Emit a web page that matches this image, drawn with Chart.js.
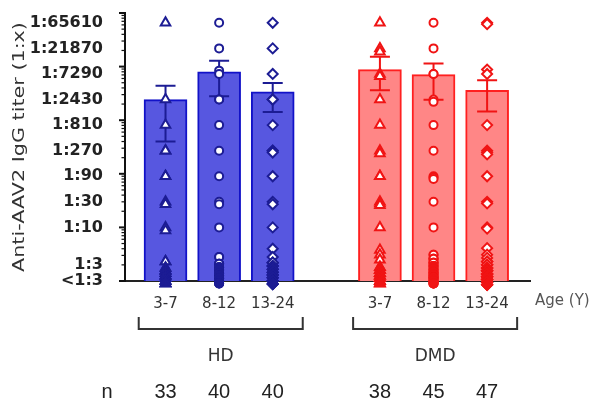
<!DOCTYPE html>
<html>
<head>
<meta charset="utf-8">
<script src="https://cdn.jsdelivr.net/npm/chart.js@4.4.1/dist/chart.umd.min.js"></script>
<style>
  body { margin: 0; background: #fff; }
</style>
</head>
<body>
<canvas id="chart" width="602" height="401"></canvas>
<script>
// x slots: three age groups per cohort, one empty slot between cohorts
const ageSlots = ["3-7", "8-12", "13-24", "", "3-7", "8-12", "13-24"];
const cohorts = ["HD", "DMD"];
const nCounts = [33, 40, 40, 38, 45, 47];

// y axis labels (3-fold dilution series)
const yTickValues = [1, 2, 10, 30, 90, 270, 810, 2430, 7290, 21870, 65610];
const yTickLabels = ["<1:3", "1:3", "1:10", "1:30", "1:90", "1:270", "1:810",
                     "1:2430", "1:7290", "1:21870", "1:65610"];

// bar heights and error bar ends per age group
const hdMean = [2420, 7960, 3370];
const hdErrLow = [402, 2790, 1423];
const hdErrHigh = [4410, 12900, 4960];
const dmdMean = [8790, 7080, 3610];
const dmdErrLow = [3610, 2420, 1460];
const dmdErrHigh = [15200, 11380, 5550];

// individual titers: level and number of subjects on that level
const hd37Levels = [65610, 2430, 810, 270, 90, 30, 27, 10, 8.8, 2.3, 1.75, 1.55, 1.4, 1.25, 1.12, 1, 0.9];
const hd37Counts = [1, 1, 1, 2, 2, 1, 1, 1, 1, 2, 2, 3, 3, 3, 3, 3, 3];
const hd812Levels = [65610, 21870, 8400, 7290, 2430, 810, 270, 90, 30, 27, 10, 2.8, 2.1, 1.8, 1.6, 1.4, 1.25, 1.12, 1, 0.9];
const hd812Counts = [1, 1, 1, 1, 2, 1, 1, 1, 1, 1, 1, 2, 3, 3, 3, 3, 3, 4, 4, 3];
const hd1324Levels = [65610, 21870, 7290, 2430, 810, 270, 250, 90, 30, 27, 10, 4, 2.8, 2.2, 1.9, 1.65, 1.45, 1.3, 1.15, 1, 0.88];
const hd1324Counts = [1, 1, 1, 2, 1, 2, 1, 1, 1, 1, 1, 1, 1, 3, 3, 3, 3, 3, 3, 4, 3];
const dmd37Levels = [65610, 21870, 19000, 7290, 6600, 2430, 810, 270, 240, 90, 30, 28, 26, 10, 3.8, 3.1, 2.5, 1.8, 1.6, 1.4, 1.25, 1.12, 1, 0.9];
const dmd37Counts = [1, 1, 1, 1, 1, 1, 1, 1, 1, 2, 1, 1, 1, 1, 1, 1, 1, 2, 3, 3, 3, 3, 3, 3];
const dmd812Levels = [65610, 21870, 7290, 2430, 2200, 810, 270, 90, 85, 80, 30, 10, 3.1, 2.6, 2.2, 1.9, 1.65, 1.45, 1.3, 1.15, 1, 0.9];
const dmd812Counts = [1, 1, 2, 1, 1, 1, 1, 1, 1, 1, 1, 1, 2, 3, 3, 3, 3, 3, 3, 4, 4, 4];
const dmd1324Levels = [65610, 62000, 8800, 7290, 810, 270, 250, 230, 90, 30, 28, 10, 9.5, 4.1, 3.1, 2.7, 2.3, 2, 1.75, 1.55, 1.35, 1.2, 1.07, 0.95, 0.85];
const dmd1324Counts = [1, 1, 1, 1, 1, 1, 1, 1, 1, 1, 1, 1, 1, 1, 1, 1, 3, 3, 3, 4, 4, 4, 4, 3, 3];

const HD_FILL = "#5757e0", HD_EDGE = "#1212c8", HD_DOT = "#1c1c94";
const DMD_FILL = "#ff8686", DMD_EDGE = "#ff2020", DMD_DOT = "#f01414";

// slot index -> x value on the linear axis
const hdSlots = [0, 1, 2];
const dmdSlots = [4, 5, 6];
const slotX = i => i + 1;

function expand(levels, counts, slot) {
    const pts = [];
    levels.forEach((v, i) => {
        for (let k = 0; k < counts[i]; k++) pts.push({ x: slotX(slot), y: v });
    });
    return pts;
}

function dots(levels, counts, slot, style, color, radius) {
    return {
        type: "scatter",
        data: expand(levels, counts, slot),
        pointStyle: style,
        pointRadius: radius,
        pointHoverRadius: radius,
        // subjects below 1:3 pile up at the bottom, drawn solid
        pointBackgroundColor: c => (c.raw && c.raw.y < yTickValues[1] ? color : "#ffffff"),
        pointBorderColor: color,
        pointBorderWidth: 2,
        clip: false,
        order: 1
    };
}

const errorBars = {
    id: "errorBars",
    afterDatasetDraw(chart, args) {
        if (args.meta.type !== "bar") return;
        const low = args.index === 0 ? hdErrLow : dmdErrLow;
        const high = args.index === 0 ? hdErrHigh : dmdErrHigh;
        const color = args.index === 0 ? HD_DOT : DMD_DOT;
        const y = chart.scales.y;
        const ctx = chart.ctx;
        ctx.save();
        ctx.strokeStyle = color;
        ctx.lineWidth = 2;
        args.meta.data.forEach((bar, i) => {
            const yl = y.getPixelForValue(low[i]);
            const yh = y.getPixelForValue(high[i]);
            ctx.beginPath();
            ctx.moveTo(bar.x, yl); ctx.lineTo(bar.x, yh);
            ctx.moveTo(bar.x - 10, yl); ctx.lineTo(bar.x + 10, yl);
            ctx.moveTo(bar.x - 10, yh); ctx.lineTo(bar.x + 10, yh);
            ctx.stroke();
        });
        ctx.restore();
    }
};

const axisDecor = {
    id: "axisDecor",
    afterDraw(chart) {
        const ctx = chart.ctx;
        const x = chart.scales.x;
        const y = chart.scales.y;
        const ax = y.right;
        ctx.save();
        // log ticks on the y axis
        ctx.strokeStyle = "#111";
        for (let k = 0; k <= 5; k++) {
            const py = y.getPixelForValue(Math.pow(10, k));
            ctx.lineWidth = 2;
            ctx.beginPath(); ctx.moveTo(ax - 6, py); ctx.lineTo(ax, py); ctx.stroke();
            if (k === 5) break;
            for (let m = 2; m <= 9; m++) {
                const pm = y.getPixelForValue(m * Math.pow(10, k));
                ctx.lineWidth = 1.2;
                ctx.beginPath(); ctx.moveTo(ax - 3.5, pm); ctx.lineTo(ax, pm); ctx.stroke();
            }
        }

        // y title, slightly stretched along its length like the original
        ctx.save();
        ctx.translate(20.5, (chart.chartArea.top + chart.chartArea.bottom) / 2);
        ctx.rotate(-Math.PI / 2);
        ctx.scale(1.38, 1);
        ctx.fillStyle = "#333";
        ctx.font = "15px 'DejaVu Sans'";
        ctx.textAlign = "center";
        ctx.textBaseline = "middle";
        ctx.fillText("Anti-AAV2 IgG titer (1:x)", 0, 0);
        ctx.restore();

        ctx.fillStyle = "#555";
        ctx.font = "15px 'DejaVu Sans'";
        ctx.textAlign = "left";
        ctx.textBaseline = "middle";
        ctx.fillText("Age (Y)", 535, 301);

        // cohort brackets and names
        [hdSlots, dmdSlots].forEach((slots, c) => {
            const x0 = x.getPixelForValue(slotX(slots[0]) - 0.5);
            const x1 = x.getPixelForValue(slotX(slots[slots.length - 1]) + 0.56);
            ctx.strokeStyle = "#333";
            ctx.lineWidth = 2;
            ctx.beginPath();
            ctx.moveTo(x0, 317); ctx.lineTo(x0, 329); ctx.lineTo(x1, 329); ctx.lineTo(x1, 317);
            ctx.stroke();
            ctx.fillStyle = "#333";
            ctx.font = "17px 'DejaVu Sans'";
            ctx.textAlign = "center";
            ctx.fillText(cohorts[c], (x0 + x1) / 2, 357);
        });

        // sample sizes
        ctx.fillStyle = "#222";
        ctx.font = "20px 'Liberation Sans'";
        ctx.textAlign = "center";
        ctx.fillText("n", 107, 392);
        hdSlots.concat(dmdSlots).forEach((s, i) => {
            ctx.fillText(String(nCounts[i]), x.getPixelForValue(slotX(s)), 392);
        });
        ctx.restore();
    }
};

const barStyle = { borderWidth: 2, barThickness: 43, grouped: false, order: 2 };

new Chart(document.getElementById("chart"), {
    type: "bar",
    data: {
        datasets: [
            Object.assign({
                data: hdSlots.map((s, i) => ({ x: slotX(s), y: hdMean[i] })),
                backgroundColor: HD_FILL,
                borderColor: HD_EDGE
            }, barStyle),
            Object.assign({
                data: dmdSlots.map((s, i) => ({ x: slotX(s), y: dmdMean[i] })),
                backgroundColor: DMD_FILL,
                borderColor: DMD_EDGE
            }, barStyle),
            dots(hd37Levels, hd37Counts, 0, "triangle", HD_DOT, 5.5),
            dots(hd812Levels, hd812Counts, 1, "circle", HD_DOT, 4),
            dots(hd1324Levels, hd1324Counts, 2, "rectRot", HD_DOT, 5),
            dots(dmd37Levels, dmd37Counts, 4, "triangle", DMD_DOT, 5.5),
            dots(dmd812Levels, dmd812Counts, 5, "circle", DMD_DOT, 4),
            dots(dmd1324Levels, dmd1324Counts, 6, "rectRot", DMD_DOT, 5)
        ]
    },
    options: {
        responsive: false,
        animation: false,
        devicePixelRatio: 1,
        layout: { padding: { top: 13, right: 72, bottom: 0, left: 0 } },
        plugins: { legend: { display: false }, tooltip: { enabled: false } },
        scales: {
            x: {
                type: "linear",
                offset: false,
                min: 0.244,
                max: 7.8,
                afterBuildTicks: s => {
                    s.ticks = ageSlots.map((a, i) => ({ value: slotX(i) })).filter((t, i) => ageSlots[i]);
                },
                afterFit: s => { s.height = 120; s.paddingLeft = 0; s.paddingRight = 0; },
                ticks: {
                    callback: v => ageSlots[v - 1],
                    font: { family: "DejaVu Sans", size: 15 },
                    color: "#333",
                    padding: 6,
                    autoSkip: false,
                    maxRotation: 0
                },
                grid: { display: false },
                border: { display: true, color: "#222", width: 2 }
            },
            y: {
                type: "logarithmic",
                min: 1,
                max: 100000,
                afterBuildTicks: s => {
                    s.ticks = yTickValues.map(v => ({ value: v }));
                },
                afterFit: s => { s.width = 125; s.paddingTop = 0; s.paddingBottom = 0; },
                ticks: {
                    callback: (v, i) => yTickLabels[i],
                    font: { family: "DejaVu Sans", size: 16, weight: "bold" },
                    color: "#222",
                    padding: 14,
                    autoSkip: false
                },
                grid: { display: false },
                border: { display: true, color: "#111", width: 2 }
            }
        }
    },
    plugins: [errorBars, axisDecor]
});
</script>
</body>
</html>
